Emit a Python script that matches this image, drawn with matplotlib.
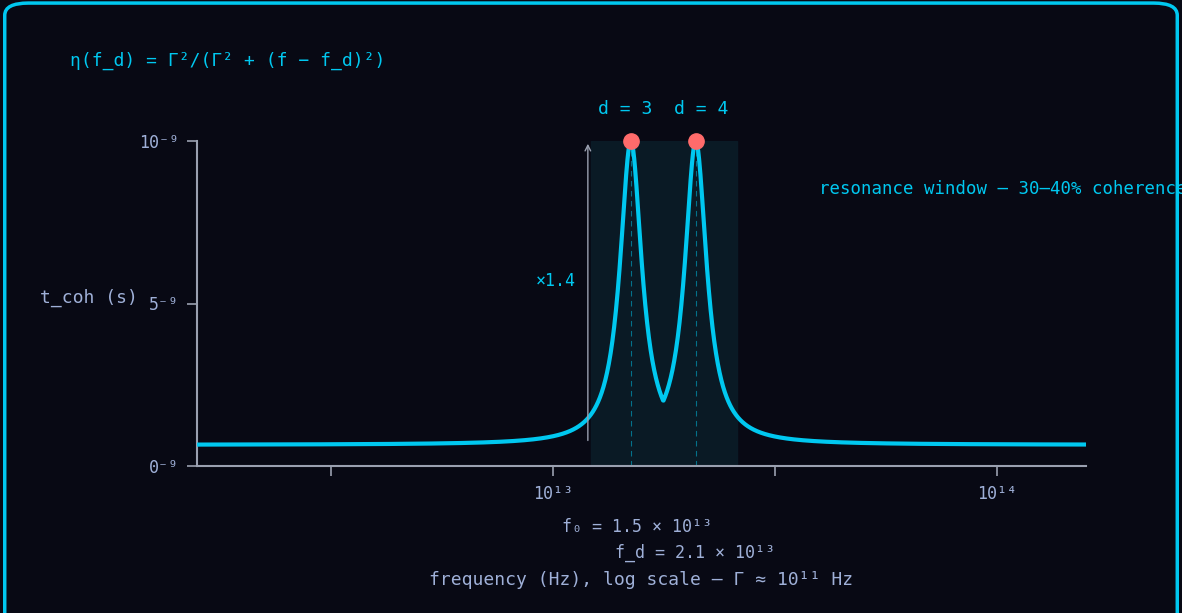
import numpy as np
import matplotlib
matplotlib.use("Agg")
import matplotlib.pyplot as plt
from matplotlib.patches import FancyBboxPatch

peak_freqs = [1.5e13, 2.1e13]
peak_labels = ["d = 3", "d = 4"]
peak_width_dec = 0.03
baseline = 0.065
window = [1.22e13, 2.6e13]
xlim = [1.58e12, 1.59e14]
yticks = [0, 5, 10]
ytick_labels = ["0⁻⁹", "5⁻⁹", "10⁻⁹"]

BG = "#080914"; CY = "#00c8f0"; TXT = "#9fb0d8"; AX = "#9aa0b0"
fig = plt.figure(figsize=(11.82, 6.13), dpi=100, facecolor=BG)
fig.patches.append(FancyBboxPatch((0.004, -0.1), 0.992, 1.095, boxstyle="round,pad=0,rounding_size=0.02",
                                  transform=fig.transFigure, fc="none", ec=CY, lw=2.5))
ax = fig.add_axes([197/1182, 1-466/613, (1086-197)/1182, 325/613], facecolor=BG)
mono = "DejaVu Sans Mono"

f = np.logspace(np.log10(xlim[0]), np.log10(xlim[1]), 2000)
u = np.log10(f)
L = np.max([1/(1+((u-np.log10(p))/peak_width_dec)**2) for p in peak_freqs], axis=0)
y = (baseline + (1-baseline)*L) * 10
ax.axvspan(window[0], window[1], color="#0b1c28", alpha=0.9, zorder=0)
ax.plot(f, y, color=CY, lw=3, zorder=3)
for p, lab in zip(peak_freqs, peak_labels):
    ax.plot([p, p], [0, 10], color=CY, lw=0.8, ls=(0, (5, 4)), alpha=0.5, zorder=2)
    ax.plot(p, 10, 'o', color="#ff6b6b", ms=11, zorder=5, clip_on=False)
ax.text(peak_freqs[0]*0.97, 10.7, peak_labels[0], color=CY, fontsize=13, family=mono, ha="center", va="bottom")
ax.text(peak_freqs[1]*1.03, 10.7, peak_labels[1], color=CY, fontsize=13, family=mono, ha="center", va="bottom")
ax.annotate("", xy=(1.2e13, 10), xytext=(1.2e13, 0.7),
            arrowprops=dict(arrowstyle="->", color=AX, lw=1))
ax.text(1.13e13, 5.7, "×1.4", color=CY, fontsize=12, family=mono, ha="right", va="center")

ax.set_xscale("log")
ax.set_xlim(xlim); ax.set_ylim(0, 10)
ax.set_xticks([1e13, 1e14]); ax.set_xticklabels(["10¹³", "10¹⁴"])
ax.set_xticks([10**12.5, 10**13.5], minor=True); ax.set_xticklabels([], minor=True)
ax.set_yticks(yticks); ax.set_yticklabels(ytick_labels)
for s in ["top", "right"]: ax.spines[s].set_visible(False)
for s in ["left", "bottom"]: ax.spines[s].set_color(AX); ax.spines[s].set_linewidth(1.5)
ax.tick_params(colors=AX, labelcolor=TXT, labelsize=12, length=7, width=1.2, pad=7)
ax.tick_params(axis="y", pad=6)
ax.tick_params(which="minor", length=7, width=1.2, colors=AX)
for t in ax.get_xticklabels() + ax.get_yticklabels(): t.set_family(mono)

fig.text(70/1182, 1-61/613, "η(f_d) = Γ²/(Γ² + (f − f_d)²)", color=CY, fontsize=13, family=mono, va="center")
fig.text(819/1182, 1-189/613, "resonance window — 30–40% coherence gain", color=CY, fontsize=12.5, family=mono, va="center")
fig.text(40/1182, 1-298/613, "t_coh (s)", color=TXT, fontsize=13, family=mono, va="center")
fig.text(637/1182, 1-527/613, "f₀ = 1.5 × 10¹³", color=TXT, fontsize=12, family=mono, ha="center", va="center")
fig.text(695/1182, 1-553/613, "f_d = 2.1 × 10¹³", color=TXT, fontsize=12, family=mono, ha="center", va="center")
fig.text(641/1182, 1-580/613, "frequency (Hz), log scale — Γ ≈ 10¹¹ Hz", color=TXT, fontsize=13, family=mono, ha="center", va="center")
fig.savefig("out.png", dpi=100, facecolor=BG)
